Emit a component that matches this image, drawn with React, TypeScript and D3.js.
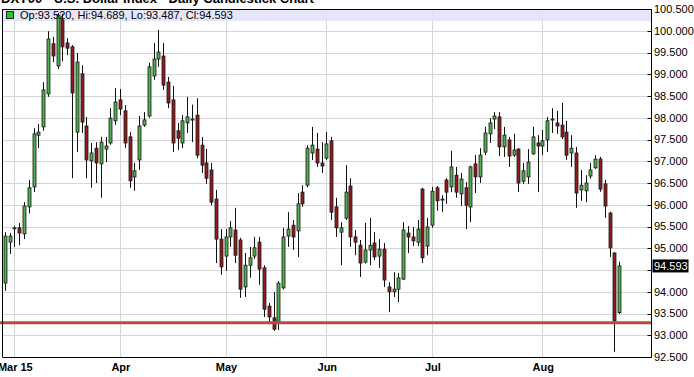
import React from 'react';
import * as d3 from 'd3';

const title = 'DXY00 - U.S. Dollar Index - Daily Candlestick Chart';
const firstDay = new Date(2015, 1, 26);
const lastDay = new Date(2015, 7, 25);

const opens = [
  94.20, 95.14, 95.45, 95.47, 95.33, 95.95, 96.41, 97.60, 97.79, 98.55,
  99.70, 99.19, 100.25, 99.72, 99.63, 97.67, 99.01, 97.81, 97.01, 97.30,
  96.94, 97.28, 97.42, 97.93, 98.41, 98.16, 97.56, 96.64, 97.03, 97.83,
  98.04, 98.96, 99.35, 99.42, 98.82, 98.41, 97.70, 97.42, 97.88, 97.95,
  98.06, 97.37, 96.96, 96.80, 96.13, 95.21, 94.82, 95.26, 95.42, 95.19,
  94.11, 94.61, 94.82, 95.14, 94.55, 93.67, 93.40, 93.28, 94.09, 95.28,
  95.53, 95.40, 96.29, 96.45, 97.19, 97.28, 96.96, 97.07, 97.47, 95.95,
  95.37, 95.69, 96.43, 95.26, 95.07, 94.68, 94.96, 95.12, 94.82, 94.98,
  94.11, 94.00, 94.06, 94.29, 95.35, 95.26, 95.14, 96.36, 95.05, 95.53,
  96.39, 96.11, 96.57, 96.41, 96.68, 96.25, 96.39, 95.95, 96.94, 96.64,
  97.21, 97.63, 97.97, 98.02, 97.33, 97.49, 97.14, 97.28, 96.54, 96.64,
  97.17, 97.42, 97.35, 97.49, 97.95, 97.88, 97.83, 97.67, 97.19, 97.19,
  96.34, 96.32, 96.66, 96.85, 97.05, 96.48, 95.81, 94.89, 93.52,
];
const highs = [
  95.37, 95.35, 95.51, 95.58, 96.06, 96.57, 97.76, 97.86, 98.82, 99.99,
  99.86, 100.41, 100.39, 99.83, 99.67, 99.49, 99.21, 98.02, 97.42, 97.44,
  97.56, 97.56, 98.22, 98.68, 98.66, 98.29, 97.67, 96.96, 98.04, 98.13,
  99.26, 99.72, 100.02, 99.72, 98.94, 98.73, 97.88, 98.06, 98.48, 98.30,
  98.45, 97.56, 97.28, 96.96, 96.34, 95.44, 95.44, 95.63, 95.93, 95.24,
  94.89, 95.03, 95.26, 95.26, 94.61, 93.74, 93.99, 94.25, 95.47, 95.83,
  95.65, 96.27, 96.45, 97.37, 97.79, 97.65, 97.44, 97.67, 97.56, 96.16,
  95.60, 96.91, 96.61, 95.42, 95.19, 95.58, 95.70, 95.37, 95.21, 95.12,
  94.22, 94.45, 94.43, 95.60, 95.51, 95.49, 95.65, 96.39, 95.70, 96.41,
  96.43, 96.22, 96.61, 97.24, 96.87, 96.73, 96.52, 96.90, 97.14, 97.30,
  97.79, 97.99, 98.13, 98.13, 97.79, 97.56, 97.63, 97.30, 96.96, 97.28,
  97.79, 97.60, 97.72, 98.02, 98.22, 98.16, 98.34, 97.93, 97.60, 97.33,
  96.80, 96.68, 96.96, 97.14, 97.10, 96.57, 95.84, 94.91, 94.689,
];
const lows = [
  94.02, 94.87, 95.03, 95.07, 95.21, 95.80, 96.29, 97.30, 97.70, 98.48,
  99.28, 99.12, 99.30, 99.44, 96.61, 97.21, 97.65, 96.61, 96.39, 96.50,
  96.16, 96.98, 97.38, 97.83, 98.06, 97.30, 96.39, 96.32, 96.80, 97.79,
  98.00, 98.87, 99.17, 98.64, 98.22, 97.21, 97.26, 97.30, 97.65, 97.44,
  97.07, 96.73, 96.48, 95.99, 94.66, 94.39, 94.48, 95.03, 94.66, 93.86,
  93.88, 94.32, 94.76, 94.16, 93.42, 93.28, 93.10, 93.12, 94.05, 95.03,
  94.96, 94.80, 95.95, 96.40, 97.03, 96.87, 96.73, 97.03, 95.65, 95.26,
  94.61, 95.65, 95.03, 94.84, 94.34, 94.65, 94.61, 94.73, 94.55, 94.11,
  93.53, 93.88, 93.76, 94.27, 94.89, 95.05, 95.05, 94.66, 94.84, 95.47,
  95.86, 95.83, 96.02, 96.29, 96.16, 95.97, 95.44, 95.60, 96.27, 96.50,
  97.14, 97.42, 97.74, 97.12, 97.10, 96.87, 97.10, 96.29, 96.48, 96.48,
  97.15, 96.29, 97.14, 97.21, 97.65, 97.63, 97.51, 97.03, 96.87, 95.93,
  96.09, 96.06, 96.60, 96.82, 96.30, 95.70, 94.80, 92.62, 93.487,
];
const closes = [
  95.28, 95.28, 95.47, 95.35, 95.97, 96.39, 97.63, 97.67, 98.64, 99.81,
  99.42, 100.36, 99.63, 99.60, 98.57, 99.28, 97.90, 97.03, 97.19, 96.96,
  97.44, 97.35, 97.99, 98.36, 98.20, 97.42, 96.55, 96.78, 97.81, 97.95,
  99.17, 99.35, 99.51, 98.75, 98.34, 97.42, 97.53, 97.93, 98.02, 97.97,
  97.14, 96.91, 96.61, 96.06, 95.21, 94.57, 95.26, 95.47, 94.84, 94.06,
  94.61, 94.78, 95.01, 94.52, 93.60, 93.42, 93.14, 94.20, 95.26, 95.44,
  95.26, 96.02, 96.02, 97.30, 97.37, 96.96, 96.89, 97.40, 95.83, 95.47,
  95.47, 96.29, 95.26, 95.14, 94.66, 94.96, 95.07, 94.80, 94.98, 94.27,
  94.00, 94.06, 94.32, 95.42, 95.26, 95.17, 95.44, 94.78, 95.49, 96.31,
  96.09, 96.13, 96.29, 96.87, 96.29, 96.59, 95.99, 96.87, 96.64, 97.14,
  97.65, 97.88, 98.04, 97.33, 97.60, 97.12, 97.26, 96.50, 96.78, 96.98,
  97.56, 97.35, 97.47, 97.93, 97.97, 97.81, 97.56, 97.14, 97.30, 96.27,
  96.45, 96.50, 96.80, 97.05, 96.36, 95.97, 95.01, 93.33, 94.593,
];

const priceTicks = [
  100.5, 100.0, 99.5, 99.0, 98.5, 98.0, 97.5, 97.0, 96.5,
  96.0, 95.5, 95.0, 94.5, 94.0, 93.5, 93.0, 92.5,
];
const monthNames = ['Jan', 'Feb', 'Mar', 'Apr', 'May', 'Jun', 'Jul', 'Aug', 'Sep', 'Oct', 'Nov', 'Dec'];
const supportLevel = 93.29;
const lastOpen = 93.52;
const lastHigh = 94.689;
const lastLow = 93.487;
const lastClose = 94.593;

const W = 694;
const H = 377;
const plotLeft = 2.5;
const plotRight = 651.5;
const plotTop = 9;
const plotBottom = 357;

export default function App() {
  const dates = d3.timeDay
    .range(firstDay, d3.timeDay.offset(lastDay, 1))
    .filter((d) => d.getDay() !== 0 && d.getDay() !== 6);
  const n = opens.length;

  const x = d3.scaleLinear().domain([0, 128]).range([4.7, 619.1]);
  const y = d3.scaleLinear().domain([92.5, 100.5]).range([plotBottom, plotTop]);

  const monthStarts: { i: number; label: string }[] = [];
  dates.forEach((d, i) => {
    if (i > 0 && d.getMonth() !== dates[i - 1].getMonth()) {
      const m = monthNames[d.getMonth()];
      const label = monthStarts.length === 0 ? `${m} ${String(d.getFullYear()).slice(2)}` : m;
      monthStarts.push({ i, label });
    }
  });

  const font = '"Liberation Sans", Arial, sans-serif';
  const supY = y(supportLevel);
  const boxY = y(lastClose);

  return (
    <svg
      width={W}
      height={H}
      style={{ position: 'absolute', left: 0, top: 0, background: '#fff' }}
      fontFamily={font}
    >
      <defs>
        <filter id="blur" x="-5%" y="-200%" width="110%" height="500%">
          <feGaussianBlur stdDeviation="1.6" />
        </filter>
      </defs>
      <rect x={0} y={0} width={W} height={H} fill="#fff" />

      {/* horizontal grid */}
      {priceTicks.map((t) => (
        <line
          key={'h' + t}
          x1={plotLeft}
          x2={plotRight - 3}
          y1={Math.round(y(t)) + 0.5}
          y2={Math.round(y(t)) + 0.5}
          stroke="#d6d6d6"
          strokeWidth={1}
        />
      ))}
      {/* vertical grid */}
      {monthStarts.map((m) => (
        <line
          key={'v' + m.i}
          x1={Math.round(x(m.i)) + 0.5}
          x2={Math.round(x(m.i)) + 0.5}
          y1={plotTop}
          y2={plotBottom}
          stroke="#d6d6d6"
          strokeWidth={1}
        />
      ))}

      {/* legend band */}
      <rect x={plotLeft} y={plotTop} width={plotRight - plotLeft} height={12} fill="#e2e2f9" opacity={0.85} />

      {/* candles */}
      {d3.range(n).map((i) => {
        const cx = Math.round(x(i)) + 0.5;
        const o = opens[i];
        const c = closes[i];
        const up = c >= o;
        const top = y(Math.max(o, c));
        const bot = y(Math.min(o, c));
        const bh = Math.max(1, bot - top);
        return (
          <g key={i}>
            <line x1={cx} x2={cx} y1={y(highs[i])} y2={y(lows[i])} stroke="#111" strokeWidth={1} />
            <rect
              x={cx - 1.5}
              y={top}
              width={3}
              height={bh}
              fill={up ? '#4fae4f' : '#8e1c1c'}
              stroke="#1b1b1b"
              strokeWidth={0.8}
            />
          </g>
        );
      })}

      {/* support line with shadow */}
      <line x1={0} x2={plotRight} y1={supY + 4} y2={supY + 4} stroke="#9a9a9a" strokeWidth={3} opacity={0.55} filter="url(#blur)" />
      <line x1={0} x2={plotRight} y1={supY} y2={supY} stroke="#b84a3e" strokeWidth={3} />

      {/* frame */}
      <line x1={plotLeft} x2={plotLeft} y1={plotTop} y2={plotBottom} stroke="#000" />
      <line x1={plotLeft} x2={plotRight} y1={plotTop + 0.5} y2={plotTop + 0.5} stroke="#000" />
      <line x1={plotLeft} x2={plotRight} y1={plotBottom + 0.5} y2={plotBottom + 0.5} stroke="#000" />
      <line x1={plotRight} x2={plotRight} y1={plotTop} y2={plotBottom + 0.5} stroke="#000" />

      {/* right axis ticks and labels */}
      {priceTicks.map((t) => (
        <g key={'t' + t}>
          <line x1={plotRight - 4} x2={plotRight} y1={Math.round(y(t)) + 0.5} y2={Math.round(y(t)) + 0.5} stroke="#000" />
          {Math.abs(y(t) - boxY) > 10 && (
            <text x={654} y={y(t)} dy="0.36em" fontSize={11} fill="#000">
              {t.toFixed(3)}
            </text>
          )}
        </g>
      ))}

      {/* current price box */}
      <rect x={652.5} y={boxY - 6.5} width={36} height={13} fill="#000" />
      <text x={654} y={boxY} dy="0.36em" fontSize={11} fill="#fff">
        {lastClose.toFixed(3)}
      </text>

      {/* x axis labels */}
      {monthStarts.map((m) => (
        <text
          key={'l' + m.i}
          x={x(m.i) + 1}
          y={371}
          fontSize={11}
          fontWeight="bold"
          textAnchor="middle"
          fill="#000"
        >
          {m.label}
        </text>
      ))}

      {/* title (clipped at top) */}
      <text x={1} y={3} fontSize={13} fontWeight="bold" fill="#000">
        {title}
      </text>

      {/* legend */}
      <rect x={6.5} y={11.5} width={7} height={7} fill="#1fcc1f" stroke="#222" strokeWidth={1} />
      <text x={20} y={19} fontSize={11} fill="#000">
        {`Op:${lastOpen.toFixed(3)}, Hi:${lastHigh.toFixed(3)}, Lo:${lastLow.toFixed(3)}, Cl:${lastClose.toFixed(3)}`}
      </text>
    </svg>
  );
}
